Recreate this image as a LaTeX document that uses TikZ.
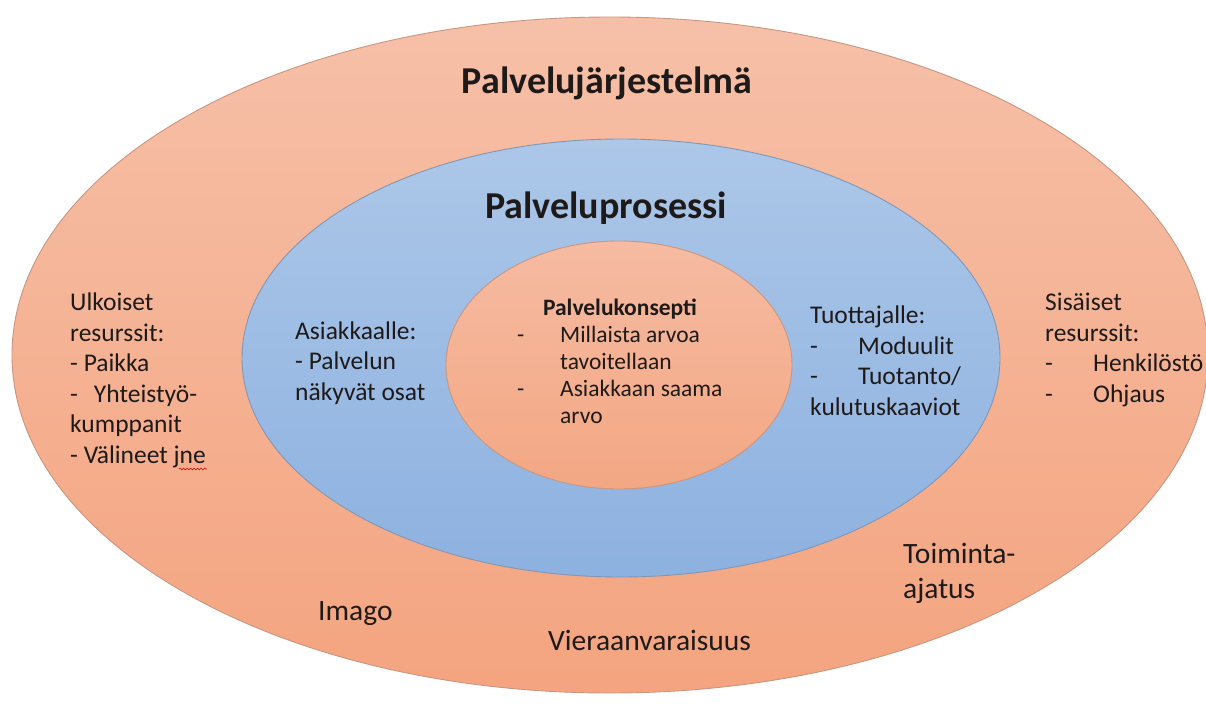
\documentclass[tikz,border=0pt]{standalone}
\usepackage{fontspec}
\setmainfont{Carlito}
\usetikzlibrary{positioning,decorations.pathmorphing}

\definecolor{outertop}{HTML}{F6C0A8}
\definecolor{outerbot}{HTML}{F4A47F}
\definecolor{midtop}{HTML}{ACC7E8}
\definecolor{midbot}{HTML}{8DB1E0}
\definecolor{innertop}{HTML}{F6BBA2}
\definecolor{innerbot}{HTML}{F3A783}
\definecolor{rimline}{HTML}{C99682}
\definecolor{midline}{HTML}{8397B5}
\definecolor{textdark}{HTML}{1E1A1A}

\begin{document}
\begin{tikzpicture}[x=1pt,y=-1pt,
  ring/.style={line width=0.9pt},
  txt/.style={anchor=base west, align=left, inner sep=0pt, text=textdark,
    font=\fontsize{25.5}{30.5}\selectfont},
  smalltxt/.style={txt, font=\fontsize{23.5}{27}\selectfont},
  bigtxt/.style={txt, font=\fontsize{29.5}{35}\selectfont},
  heading/.style={anchor=base, inner sep=0pt, text=textdark,
    font=\fontsize{38}{44}\selectfont\bfseries}]
  \useasboundingbox (0,0) rectangle (1206,704);
  \fill[white] (0,0) rectangle (1206,704);

  % the three rings
  \draw[ring, draw=rimline, top color=outertop, bottom color=outerbot]
    (610,355) ellipse [x radius=598, y radius=338];
  \draw[ring, draw=midline, top color=midtop, bottom color=midbot]
    (621,358) ellipse [x radius=379, y radius=219];
  \draw[ring, draw=rimline, top color=innertop, bottom color=innerbot]
    (619,365) ellipse [x radius=173, y radius=124];

  % headings
  \node[heading] (jarjestelma) at (607,93) {Palvelujärjestelmä};
  \node[heading] (prosessi) at (606,218) {Palveluprosessi};

  % outer ring (blocks sit on their last baseline)
  \node[txt] (ulkoiset) at (70,463) {Ulkoiset\\resurssit:\\- Paikka\\-\hspace{16pt}Yhteistyö-\\kumppanit\\- Välineet jne};
  \draw[red!80!black, line width=0.6pt, decorate,
    decoration={snake, amplitude=0.9pt, segment length=3.5pt}]
    (179,469) -- (207,469);
  \node[txt] (sisaiset) at (1045,402) {Sisäiset\\resurssit:\\\makebox[48pt][l]{-}Henkilöstö\\\makebox[48pt][l]{-}Ohjaus};
  \node[bigtxt] (toiminta) at (903,598) {Toiminta-\\ajatus};
  \node[bigtxt] (imago) at (318,620) {Imago};
  \node[bigtxt] (vieraan) at (548,650) {Vieraanvaraisuus};

  % middle ring
  \node[txt] (asiakkaalle) at (295,400) {Asiakkaalle:\\- Palvelun\\näkyvät osat};
  \node[txt] (tuottajalle) at (810,415) {Tuottajalle:\\\makebox[48pt][l]{-}Moduulit\\\makebox[48pt][l]{-}Tuotanto/\\kulutuskaaviot};

  % inner ring
  \node[smalltxt, anchor=base, font=\fontsize{23.5}{27}\selectfont\bfseries] (konsepti) at (620,315) {Palvelukonsepti};
  \node[smalltxt] (arvot) at (517,423) {\makebox[43pt][l]{-}Millaista arvoa\\\hspace*{43pt}tavoitellaan\\\makebox[43pt][l]{-}Asiakkaan saama\\\hspace*{43pt}arvo};
\end{tikzpicture}
\end{document}
